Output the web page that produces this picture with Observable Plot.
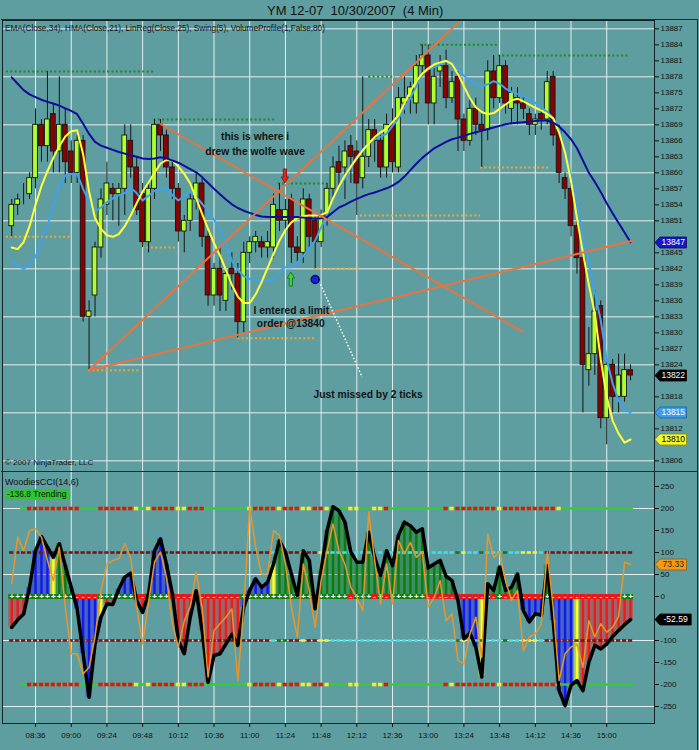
<!DOCTYPE html>
<html>
<head>
<meta charset="utf-8">
<title>YM 12-07 10/30/2007 (4 Min)</title>
<script src="https://cdn.jsdelivr.net/npm/d3@7"></script>
<script src="https://cdn.jsdelivr.net/npm/@observablehq/plot@0.6"></script>
<style>
  html, body { margin: 0; padding: 0; background: #5f9ea0; }
  #chart { position: relative; width: 699px; height: 750px; overflow: hidden; background: #5f9ea0;
           font-family: "Liberation Sans", Arial, sans-serif; color: #111; }
  #chart .lbl { position: absolute; white-space: nowrap; line-height: 1; }
  #upper, #lower { position: absolute; left: 0; }
  #upper { top: 20px; }
  #lower { top: 471px; }
  .edge { position: absolute; background: #1b2d2d; }
</style>
</head>
<body>
<div id="chart">
  <div class="lbl" style="left:267px; top:4px; font-size:13px;">YM 12-07&nbsp; 10/30/2007&nbsp; (4 Min)</div>
  <div id="upper"></div>
  <div id="lower"></div>
  <div class="edge" style="left:1px; top:19px; width:697px; height:1px;"></div>
  <div class="edge" style="left:697px; top:19px; width:1px; height:731px;"></div>
  <div class="edge" style="left:1px; top:471px; width:697px; height:1px;"></div>
  <div class="lbl" style="left:5px; top:25px; font-size:8.2px;">EMA(Close,34), HMA(Close,21), LinReg(Close,25), Swing(5), VolumeProfile(1,False,80)</div>
  <div class="lbl" style="left:5px; top:459px; font-size:8px;">© 2007 NinjaTrader, LLC</div>
  <div class="lbl" style="left:5px; top:478px; font-size:9px;">WoodiesCCI(14,6)</div>
  <div class="lbl" style="left:5px; top:489px; font-size:8.5px; background:#2fc62f; padding:1px 3px 1px 2px;">-136.8 Trending</div>
</div>
<script>
// ---------- time axis ----------
const sessionStart = "08:20";
const barMinutes = 4;
const timeLabels = ["08:36","09:00","09:24","09:48","10:12","10:36","11:00","11:24","11:48",
                    "12:12","12:36","13:00","13:24","13:48","14:12","14:36","15:00"];

// ---------- price bars (4 minute) ----------
const open = [13850,13854,13856,13856,13859,13869,13865,13871,13864,13869,
  13864,13860,13866,13833,13837,13846,13854,13857,13856,13857,
  13866,13861,13856,13847,13857,13869,13867,13861,13857,13849,
  13851,13855,13858,13848,13837,13842,13836,13842,13841,13832,
  13845,13847,13847,13846,13846,13853,13851,13855,13846,13845,
  13855,13851,13847,13852,13857,13862,13861,13865,13864,13859,
  13863,13868,13866,13861,13869,13861,13873,13874,13873,13880,
  13882,13873,13879,13880,13874,13878,13870,13866,13872,13869,
  13868,13879,13874,13880,13872,13874,13873,13871,13869,13871,
  13870,13878,13868,13859,13857,13850,13844,13823,13826,13835,
  13814,13824,13818,13818,13823];
const high = [13855,13856,13858,13860,13872,13870,13879,13873,13878,13872,
  13866,13867,13867,13836,13847,13857,13862,13858,13858,13869,
  13869,13863,13858,13858,13870,13870,13868,13862,13858,13852,
  13856,13860,13859,13849,13843,13846,13842,13845,13843,13847,
  13848,13849,13848,13849,13856,13858,13855,13856,13848,13857,
  13856,13852,13853,13858,13863,13865,13866,13867,13866,13878,
  13870,13870,13867,13871,13872,13876,13878,13877,13882,13884,
  13884,13880,13882,13883,13879,13879,13871,13874,13874,13871,
  13881,13882,13882,13881,13876,13876,13874,13872,13871,13872,
  13879,13879,13869,13860,13858,13851,13845,13831,13838,13836,
  13825,13825,13826,13826,13824];
const low = [13848,13852,13854,13855,13857,13862,13862,13860,13860,13858,
  13858,13858,13832,13823,13833,13844,13852,13851,13850,13852,
  13859,13852,13846,13845,13855,13864,13859,13855,13847,13845,
  13849,13853,13846,13835,13835,13834,13834,13838,13829,13830,
  13843,13845,13844,13844,13844,13849,13849,13843,13843,13843,
  13846,13842,13846,13850,13855,13857,13855,13858,13852,13857,
  13861,13862,13859,13859,13860,13860,13871,13871,13871,13878,
  13869,13869,13876,13872,13873,13864,13864,13865,13867,13861,
  13866,13872,13873,13871,13869,13869,13870,13867,13867,13868,
  13869,13865,13858,13855,13848,13841,13815,13820,13822,13812,
  13809,13815,13815,13817,13821];
const close = [13854,13855,13856,13859,13869,13865,13870,13864,13869,13862,
  13860,13866,13833,13834,13846,13855,13858,13856,13857,13867,
  13861,13853,13847,13857,13869,13867,13861,13857,13849,13851,
  13855,13858,13848,13837,13842,13837,13841,13841,13832,13845,
  13847,13848,13846,13847,13854,13851,13853,13846,13845,13855,
  13848,13847,13852,13857,13861,13860,13864,13863,13858,13863,
  13868,13866,13861,13869,13862,13874,13874,13876,13880,13882,
  13873,13878,13880,13874,13877,13870,13866,13872,13869,13868,
  13879,13874,13880,13873,13875,13873,13872,13869,13870,13870,
  13877,13867,13860,13857,13850,13844,13824,13826,13834,13814,
  13824,13818,13822,13823,13822];

// ---------- overlays ----------
const ema34 = [13877.9,13876.7,13875.5,13874.7,13874.2,13873.7,13873.3,13873.0,13872.6,13872.1,
  13871.6,13871.0,13869.2,13867.3,13865.8,13865.1,13864.7,13864.3,13863.9,13863.6,
  13863.3,13863.0,13862.7,13862.6,13862.7,13862.9,13862.7,13862.3,13861.9,13861.3,
  13860.7,13860.1,13859.2,13858.1,13857.0,13856.0,13855.0,13854.1,13853.4,13852.9,
  13852.5,13852.1,13851.8,13851.7,13851.7,13851.7,13851.7,13851.7,13851.7,13851.6,
  13851.5,13851.4,13851.5,13851.7,13852.6,13853.5,13854.0,13854.6,13855.1,13855.6,
  13856.0,13856.3,13856.7,13857.1,13857.6,13858.3,13859.3,13860.5,13861.7,13862.8,
  13863.7,13864.6,13865.2,13865.8,13866.3,13866.6,13866.9,13867.3,13867.6,13867.9,
  13868.2,13868.5,13868.8,13869.1,13869.3,13869.4,13869.5,13869.6,13869.7,13869.8,
  13869.8,13869.4,13868.7,13867.6,13866.3,13864.6,13862.3,13860.0,13858.3,13856.4,
  13854.3,13852.4,13850.6,13848.8,13847.0];
const hma21 = [13846.0,13845.7,13847.0,13850.0,13854.0,13857.5,13860.3,13862.8,13865.0,13866.8,
  13867.8,13868.0,13863.5,13856.5,13851.5,13849.5,13848.3,13848.0,13848.5,13850.0,
  13852.0,13854.3,13856.5,13858.2,13860.0,13861.7,13862.4,13862.3,13861.2,13859.8,
  13858.0,13855.2,13852.3,13849.5,13846.8,13844.5,13841.8,13839.0,13836.8,13835.6,
  13835.6,13837.2,13839.5,13842.2,13844.8,13847.3,13849.3,13850.7,13851.5,13851.9,
  13852.0,13852.0,13852.1,13852.6,13855.2,13857.5,13859.5,13861.2,13862.7,13864.2,
  13865.5,13866.7,13867.6,13868.3,13869.5,13870.8,13873.0,13875.3,13877.2,13878.6,
  13879.6,13880.3,13880.7,13881.0,13880.4,13878.5,13876.2,13874.0,13872.3,13871.4,
  13871.0,13871.2,13872.0,13872.8,13873.6,13873.9,13873.4,13872.8,13872.2,13871.7,
  13871.0,13870.2,13867.5,13863.8,13858.5,13851.5,13845.0,13839.0,13833.6,13825.0,
  13818.0,13813.5,13811.1,13809.4,13810.0];
const linReg25 = [13843.5,13842.7,13842.0,13842.8,13844.3,13847.0,13850.0,13853.8,13857.5,13859.5,
  13859.8,13859.8,13857.0,13854.5,13852.8,13853.5,13854.5,13855.2,13855.8,13856.2,
  13857.2,13856.2,13854.8,13855.7,13856.6,13857.0,13857.0,13855.8,13854.8,13855.6,
  13856.5,13855.5,13854.2,13852.8,13851.2,13849.5,13846.8,13843.5,13841.8,13840.6,
  13840.1,13839.9,13839.8,13839.8,13840.0,13841.6,13842.3,13842.3,13843.2,13844.4,
  13845.8,13847.3,13849.8,13852.0,13855.0,13857.2,13859.0,13861.0,13863.0,13864.4,
  13865.5,13866.3,13866.8,13867.3,13868.8,13870.2,13872.1,13874.0,13876.2,13878.5,
  13879.4,13879.8,13880.3,13880.9,13880.5,13879.4,13878.2,13877.3,13876.7,13876.2,
  13876.6,13877.2,13876.7,13875.8,13875.2,13874.8,13874.5,13873.8,13873.1,13872.3,
  13871.4,13870.3,13868.4,13864.5,13859.5,13854.5,13848.0,13843.2,13837.5,13832.3,
  13825.0,13820.5,13817.3,13815.8,13815.0];

// swing levels: [first bar, last bar, price]
const swingHighs = [[-0.9, 23.9, 13879], [23.9, 44.3, 13870], [44.8, 53.1, 13858],
                    [60, 64.5, 13878], [68.7, 81.6, 13884], [81.8, 103.7, 13882]];
const swingLows = [[-0.9, 9.9, 13848], [12.9, 21.6, 13823], [22, 27.5, 13846], [38, 51, 13829],
                   [50.7, 58.6, 13842], [58.6, 78.8, 13852], [78.8, 90.6, 13861]];

// hand-drawn wolfe wave lines: [bar1, price1, bar2, price2]
const wolfeLines = [[13, 13823, 75.5, 13888.6], [13, 13823, 104.5, 13847.3], [24.9, 13869.2, 85.9, 13830.2]];

// signal arrows: [bar, tip price, direction]
const signalArrows = [[46, 13858, "down"], [47, 13841.3, "up"]];

// limit order and the dotted pointer toward its note
const limitBar = 51;
const limitPrice = 13840;
const missPointer = [51.9, 13839.1, 58.9, 13821.7];

// notes written on the chart
const noteText = ["this is where i", "drew the wolfe wave", "I entered a limit", "order @13840", "Just missed by 2 ticks"];
const noteBar = [40.9, 40.9, 47.0, 46.9, 59.9];
const notePrice = [13866.7, 13863.9, 13834.2, 13831.8, 13818.4];

// ---------- Woodies CCI ----------
const cci = [-70,-53,-40,21,104,136,112,89,120,70,
  21,-28,-130,-229,-108,-47,-17,-18,17,44,
  53,-9,-36,6,104,131,74,6,-100,-130,
  -47,13,-77,-195,-134,-130,-108,-86,-111,-24,
  14,40,21,32,74,127,101,51,2,104,
  82,-28,59,150,204,195,169,101,78,78,
  146,89,48,104,70,139,169,161,146,154,
  65,74,82,46,36,-9,-96,-83,-115,-183,
  29,14,67,14,21,51,-32,-58,-39,-43,
  70,-55,-214,-248,-202,-191,-214,-149,-111,-119,
  -108,-91,-77,-64,-52.59];
const tcci = [29,135,104,150,154,135,82,36,112,-24,
  -130,-130,-176,-161,-92,14,74,82,86,120,
  89,-24,-108,-13,78,101,44,-62,-115,-55,
  -24,55,-24,-183,-77,-62,-47,-28,-191,-24,
  203,112,51,51,150,139,74,-24,-92,74,
  14,-70,36,104,165,104,74,21,-2,-32,
  192,82,-17,74,-17,127,97,123,89,101,
  -24,-2,36,-55,-39,-145,-153,-85,-47,-138,
  142,89,101,36,-9,14,-123,-92,-85,-62,
  101,-24,-191,-130,-115,-108,-161,-55,-92,-62,
  -81,-70,-45,78,73.33];

// per-bar state runs: [code, number of bars]
const histRuns = [["r",3],["b",4],["y",1],["g",3],["b",4],["y",1],["r",2],["b",3],["r",2],["b",4],
  ["r",12],["b",5],["y",1],["g",6],["r",1],["g",23],["b",4],["y",1],["g",6],["b",4],["g",1],
  ["b",4],["y",1],["r",9]];
const zeroRuns = [["g",11],["r",4],["g",6],["r",2],["g",4],["r",12],["g",12],["r",1],["g",5],["r",1],
  ["g",3],["r",1],["g",1],["r",1],["g",6],["r",10],["g",1],["r",1],["g",1],["r",7],["g",1],["r",12],["g",2]];
const line200Runs = [["n",2],["g",1],["r",9],["g",3],["r",6],["y",1],["g",1],["y",1],["r",4],["y",2],
  ["r",3],["g",7],["y",1],["r",4],["y",1],["r",3],["y",2],["r",2],["y",1],["g",3],["y",2],["g",2],
  ["y",2],["r",1],["g",9],["r",1],["y",1],["r",7],["y",1],["r",9],["y",1],["g",12]];
const line100Runs = [["d",44],["c",1],["g",2],["d",2],["y",1],["d",2],["y",2],["c",21],["g",1],["y",1],
  ["c",2],["g",1],["c",3],["g",1],["c",2],["y",3],["c",1],["d",15]];

// ---------- axes ----------
const priceTicks = d3.range(13806, 13888, 3);
const priceGrid = d3.range(13806, 13888, 9);
const cciTicks = d3.range(-250, 251, 50);
const cciGrid = [-250, -100, 50, 200];
const xDomain = [-1.55, 108.03];
const priceDomain = [13804.0, 13888.56];
const cciDomain = [-288.6, 284.1];

// ---------- helpers ----------
const GRID = "#e4eeee";
const FONT = "Liberation Sans, Arial, sans-serif";
const expand = runs => runs.flatMap(([c, n]) => Array(n).fill(c));
const toMin = s => { const [h, m] = s.split(":").map(Number); return h * 60 + m; };
const tickBars = timeLabels.map(t => (toMin(t) - toMin(sessionStart)) / barMinutes);
const labelAt = new Map(tickBars.map((b, k) => [b, timeLabels[k]]));
const last = a => a[a.length - 1];
// axis labels that would sit under a value tag are left out
const clearOf = (ticks, tagValues, gap) => ticks.filter(t => tagValues.every(v => Math.abs(t - v) > gap));

function findScales(args) { return args.find(a => a && !Array.isArray(a) && typeof a.y === "function"); }
function findDims(args) { return args.find(a => a && typeof a.marginRight === "number"); }

// value tags on the right axis
function valueTags(tags) {
  return function (...args) {
    const s = findScales(args), dims = findDims(args);
    const x0 = dims.width - dims.marginRight;
    const g = d3.create("svg:g").attr("font-size", 8.5).attr("font-family", FONT);
    for (const t of tags) {
      const y = Math.round(s.y(t.value)) + 0.5;
      const w = t.text.length * 4.7 + 3;
      g.append("path")
        .attr("d", `M${x0 + 1},${y} L${x0 + 6},${y - 5.5} H${x0 + 6 + w} V${y + 5.5} H${x0 + 6} Z`)
        .attr("fill", t.fill).attr("stroke", t.edge).attr("stroke-width", 0.8);
      g.append("text").attr("x", x0 + 6 + w / 2).attr("y", y).attr("dy", "0.35em")
        .attr("text-anchor", "middle").attr("fill", t.ink).text(t.text);
    }
    return g.node();
  };
}

// block arrows for entry signals
function arrowMarks(list) {
  return function (...args) {
    const s = findScales(args);
    const g = d3.create("svg:g");
    for (const [bar, price, dir] of list) {
      const x = s.x(bar), y = s.y(price), k = dir === "down" ? -1 : 1;
      const pts = [[x - 1.6, y + 14 * k], [x + 1.6, y + 14 * k], [x + 1.6, y + 6 * k], [x + 3.6, y + 6 * k],
                   [x, y], [x - 3.6, y + 6 * k], [x - 1.6, y + 6 * k]];
      g.append("polygon").attr("points", pts.map(p => p.join(",")).join(" "))
        .attr("fill", dir === "down" ? "#e8261e" : "#3ed43e")
        .attr("stroke", dir === "down" ? "#7a0e0e" : "#0f6a0f").attr("stroke-width", 0.8);
    }
    return g.node();
  };
}

// ---------- price panel ----------
const bars = open.map((o, i) => ({i, o, h: high[i], l: low[i], c: close[i],
  ema: ema34[i], hma: hma21[i], lr: linReg25[i]}));
const wolfe = wolfeLines.map(([x1, y1, x2, y2]) => ({x1, y1, x2, y2}));
const notes = noteText.map((text, k) => ({text, x: noteBar[k], y: notePrice[k]}));
const priceTagValues = [last(ema34), last(close), last(linReg25), last(hma21)];

const upper = Plot.plot({
  width: 699, height: 451,
  marginLeft: 2, marginRight: 45, marginTop: 0, marginBottom: 0,
  style: {background: "transparent", color: "#111", fontSize: "8px", fontFamily: FONT},
  color: {type: "identity"},
  x: {domain: xDomain, axis: null},
  y: {domain: priceDomain, axis: "right", ticks: clearOf(priceTicks, priceTagValues, 1.4),
      tickFormat: d => String(d), tickSize: 4, tickPadding: 2, label: null},
  marks: [
    Plot.ruleY(priceGrid, {stroke: GRID, strokeWidth: 1}),
    Plot.ruleX(tickBars, {stroke: GRID, strokeWidth: 1}),
    Plot.ruleY(swingHighs, {y: d => d[2], x1: d => d[0], x2: d => d[1], stroke: "#1d8a1d", strokeWidth: 2, strokeDasharray: "2,2.4"}),
    Plot.ruleY(swingLows, {y: d => d[2], x1: d => d[0], x2: d => d[1], stroke: "#f2a72e", strokeWidth: 2, strokeDasharray: "2,2.4"}),
    Plot.ruleX(bars, {x: "i", y1: "l", y2: "h", stroke: "#151515", strokeWidth: 1}),
    Plot.rect(bars, {x1: d => d.i - 0.4, x2: d => d.i + 0.4, y1: "o", y2: "c",
      fill: d => d.c >= d.o ? "#adff2f" : "#8b0000", stroke: "#151515", strokeWidth: 0.9}),
    Plot.line(bars, {x: "i", y: "lr", stroke: "#3fa2ee", strokeWidth: 2}),
    Plot.line(bars, {x: "i", y: "hma", stroke: "#ffff3a", strokeWidth: 2}),
    Plot.line(bars, {x: "i", y: "ema", stroke: "#0d0d9c", strokeWidth: 2}),
    Plot.link(wolfe, {x1: "x1", y1: "y1", x2: "x2", y2: "y2", stroke: "#e8733f", strokeWidth: 2, clip: true}),
    Plot.link([missPointer], {x1: d => d[0], y1: d => d[1], x2: d => d[2], y2: d => d[3],
      stroke: "#ffffff", strokeWidth: 1.5, strokeDasharray: "1.5,2"}),
    Plot.dot([{i: limitBar, p: limitPrice}], {x: "i", y: "p", r: 4, fill: "#1624d6", stroke: "#0a0a60"}),
    arrowMarks(signalArrows),
    Plot.text(notes, {x: "x", y: "y", text: "text", fontSize: 10.3, fontWeight: "bold", fontFamily: FONT,
      fill: "#141414", ariaLabel: "annotation"}),
    valueTags([
      {value: last(ema34), text: last(ema34).toFixed(0), fill: "#1616c8", edge: "#0a0a60", ink: "#fff"},
      {value: last(close), text: String(last(close)), fill: "#000", edge: "#000", ink: "#fff"},
      {value: last(linReg25), text: last(linReg25).toFixed(0), fill: "#3d9bf0", edge: "#1b5f9a", ink: "#fff"},
      {value: last(hma21), text: last(hma21).toFixed(0), fill: "#f7f72a", edge: "#8a8a10", ink: "#000"}
    ]),
    Plot.frame({stroke: "#142424"})
  ]
});
upper.querySelectorAll('g[aria-label="annotation"] text').forEach(t => { t.style.textDecoration = "underline"; });
document.getElementById("upper").append(upper);

// ---------- CCI panel ----------
const HIST = {b: "#1616f0", r: "#ee1a1a", g: "#0c7d0c", y: "#ffff22"};
const ZERO = {g: "#0f800f", r: "#e81818"};
const L200 = {g: "#33cc33", r: "#e01515", y: "#f5e642"};
const L100 = {d: "#7a1515", c: "#3de0ea", g: "#137a13", y: "#f2f23a"};

const histCode = expand(histRuns), zeroCode = expand(zeroRuns);
const c200 = expand(line200Runs), c100 = expand(line100Runs);
const cciBars = cci.map((v, i) => ({i, cci: v, tcci: tcci[i], hist: histCode[i], zero: zeroCode[i], l100: c100[i], l200: c200[i]}));
const seg100 = cciBars.flatMap(d => [100, -100].map(y => ({i: d.i, y, code: d.l100})));
const seg200 = cciBars.filter(d => d.l200 !== "n").flatMap(d => [200, -200].map(y => ({i: d.i, y, code: d.l200})));
const base200 = [200, -200].map(y => ({y, x1: d3.min(seg200, d => d.i) - 0.5, x2: d3.max(seg200, d => d.i) + 0.5}));

const lower = Plot.plot({
  width: 699, height: 279,
  marginLeft: 2, marginRight: 45, marginTop: 0, marginBottom: 27,
  style: {background: "transparent", color: "#111", fontSize: "8px", fontFamily: FONT},
  color: {type: "identity"},
  x: {domain: xDomain, axis: "bottom", ticks: tickBars, tickFormat: b => labelAt.get(b), tickSize: 4, label: null},
  y: {domain: cciDomain, axis: "right", ticks: clearOf(cciTicks, [last(cci), last(tcci)], 15),
      tickFormat: d => String(d), tickSize: 4, tickPadding: 2, label: null},
  marks: [
    Plot.ruleY(cciGrid, {stroke: GRID, strokeWidth: 1}),
    Plot.ruleX(tickBars, {stroke: GRID, strokeWidth: 1}),
    Plot.rect(cciBars, {x1: d => d.i - 0.5, x2: d => d.i + 0.5, y1: 0, y2: "cci", fill: d => HIST[d.hist], fillOpacity: 0.42}),
    Plot.ruleX(cciBars, {x: "i", y1: 0, y2: "cci", stroke: d => HIST[d.hist], strokeWidth: 2.4}),
    Plot.ruleY(seg100, {y: "y", x1: d => d.i - 0.36, x2: d => d.i + 0.36, stroke: d => L100[d.code], strokeWidth: 2.6}),
    Plot.ruleY(base200, {y: "y", x1: "x1", x2: "x2", stroke: L200.g, strokeWidth: 2.4}),
    Plot.ruleY(seg200.filter(d => d.code !== "g"), {y: "y", x1: d => d.i - 0.36, x2: d => d.i + 0.36,
      stroke: d => L200[d.code], strokeWidth: 3.6}),
    Plot.ruleY(cciBars, {y: 0, x1: d => d.i - 0.5, x2: d => d.i + 0.5, stroke: d => ZERO[d.zero], strokeWidth: 5}),
    Plot.text(cciBars, {x: "i", y: 0, text: d => d.zero === "g" ? "+" : "-", fill: "#ffffff", fontSize: 8, fontWeight: "bold"}),
    Plot.line(cciBars, {x: "i", y: "cci", stroke: "#000000", strokeWidth: 3.5}),
    Plot.line(cciBars, {x: "i", y: "tcci", stroke: "#e8962a", strokeWidth: 1.5}),
    valueTags([
      {value: last(tcci), text: last(tcci).toFixed(2), fill: "#f59a12", edge: "#8a5a08", ink: "#222"},
      {value: last(cci), text: last(cci).toFixed(2), fill: "#000", edge: "#000", ink: "#fff"}
    ]),
    Plot.frame({stroke: "#142424"})
  ]
});
document.getElementById("lower").append(lower);
</script>
</body>
</html>
